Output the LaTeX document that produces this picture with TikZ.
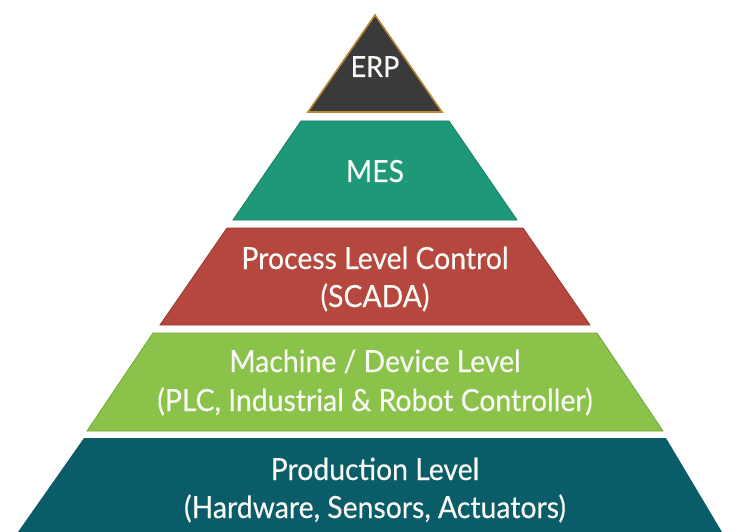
\documentclass[tikz,border=0pt]{standalone}
\usepackage{fontspec}
\setmainfont[FakeStretch=0.93,FakeBold=0.4]{Lato}
\definecolor{erpfill}{RGB}{58,58,58}
\definecolor{erpline}{RGB}{184,136,52}
\definecolor{mesfill}{RGB}{31,152,119}
\definecolor{mesline}{RGB}{24,128,98}
\definecolor{procfill}{RGB}{181,71,63}
\definecolor{procline}{RGB}{150,55,50}
\definecolor{machfill}{RGB}{139,195,74}
\definecolor{machline}{RGB}{115,165,58}
\definecolor{prodfill}{RGB}{10,92,104}
\definecolor{txt}{RGB}{248,248,244}
\tikzset{
  lbl/.style={text=txt, font=\fontsize{30.5}{36}\selectfont, inner sep=0pt, anchor=base},
  layer/.style={line width=0.8pt, line join=miter},
}
\begin{document}
\begin{tikzpicture}[x=1pt,y=-1pt]
\useasboundingbox (0,0) rectangle (734,532);
\fill[white] (0,0) rectangle (734,532);
% ERP
\filldraw[layer, fill=erpfill, draw=erpline, line width=1.6pt] (375,15) -- (442,112) -- (308,112) -- cycle;
% MES
\filldraw[layer, fill=mesfill, draw=mesline] (301,121) -- (449,121) -- (517,220) -- (233,220) -- cycle;
% Process
\filldraw[layer, fill=procfill, draw=procline] (227,228) -- (523,228) -- (590,325) -- (160,325) -- cycle;
% Machine
\filldraw[layer, fill=machfill, draw=machline] (153,333) -- (597,333) -- (663,431) -- (87,431) -- cycle;
% Production
\fill[prodfill] (84,438) -- (666,438) -- (722,532) -- (18,532) -- cycle;

\node[lbl, font=\fontsize{29}{34}\selectfont] (erp) at (375,77) {ERP};
\node[lbl] (mes) at (375,182) {MES};
\node[lbl] (proc1) at (375,269) {Process Level Control};
\node[lbl] (proc2) at (375,307) {(SCADA)};
\node[lbl] (mach1) at (375,372) {Machine / Device Level};
\node[lbl] (mach2) at (375,411) {(PLC, Industrial \& Robot Controller)};
\node[lbl] (prod1) at (375,480) {Production Level};
\node[lbl] (prod2) at (375,518) {(Hardware, Sensors, Actuators)};
\end{tikzpicture}
\end{document}
